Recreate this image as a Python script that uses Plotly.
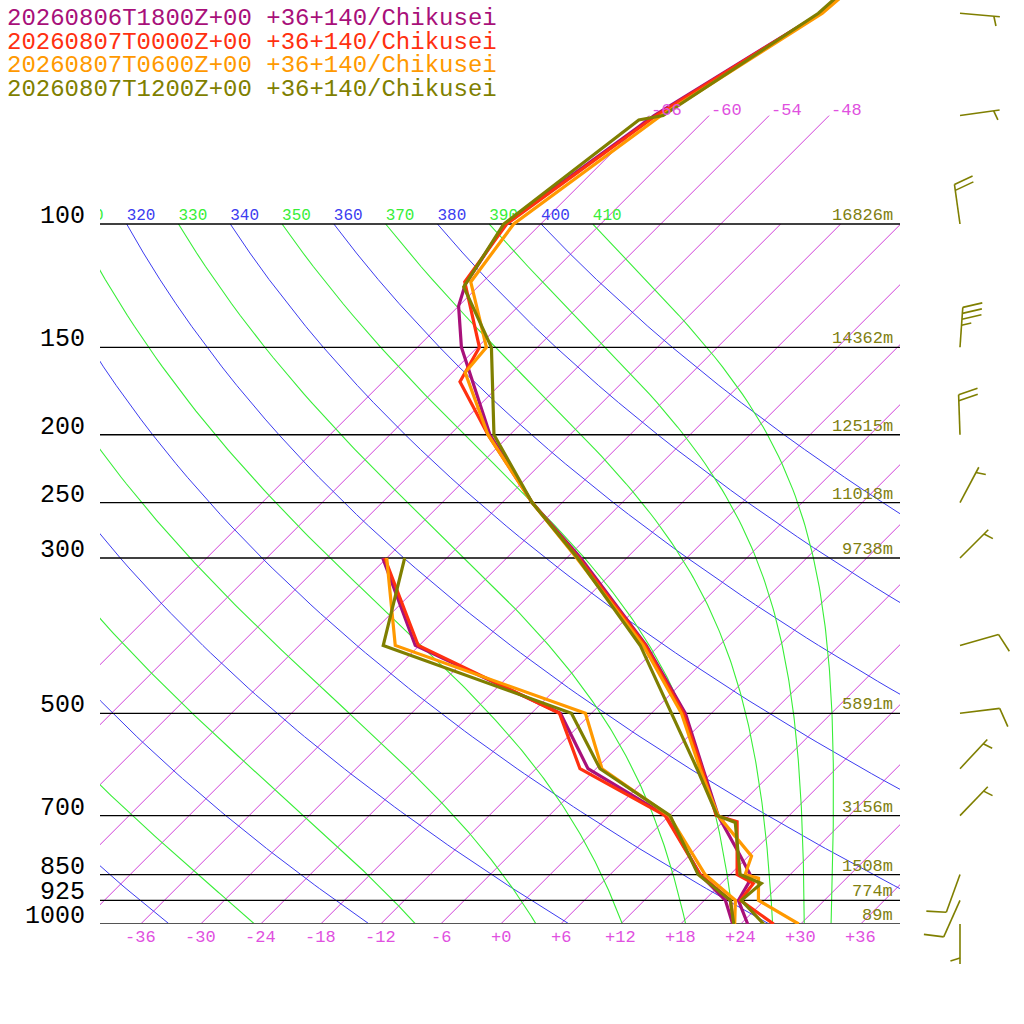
import math
import numpy as np
import plotly.graph_objects as go

# ---- sounding data (hPa, degC) ----
TIMES = ["20260806T1800Z+00", "20260807T0000Z+00", "20260807T0600Z+00", "20260807T1200Z+00"]
STATION = "+36+140/Chikusei"
SERIES_COLORS = ["#a8107a", "#ff3010", "#ff9900", "#7f7f00"]

t18_p = [1000, 925, 875, 850, 800, 700, 600, 500, 400, 300, 250, 200, 150, 131, 122, 100, 70, 50, 30]
t18_t = [24.7, 21.4, 20.7, 20.0, 17.2, 10.9, 4.7, -2.6, -13.3, -28.6, -39.0, -50.0, -61.6, -66.0, -67.5, -69.6, -65.5, -59.1, -57.0]
t00_p = [1000, 925, 875, 850, 714, 700, 600, 500, 400, 300, 250, 200, 168, 150, 121, 100, 70, 50, 30]
t00_t = [27.3, 21.6, 21.2, 18.7, 13.4, 10.7, 4.6, -2.8, -13.4, -28.8, -39.0, -50.2, -58.3, -59.8, -67.8, -69.4, -65.3, -59.1, -57.0]
t06_p = [1000, 925, 860, 850, 800, 700, 600, 500, 400, 300, 250, 200, 163, 150, 121, 100, 70, 50, 30]
t06_t = [29.8, 23.4, 21.2, 19.5, 18.3, 10.9, 4.4, -3.0, -13.6, -29.0, -39.0, -50.2, -58.7, -59.1, -67.2, -68.7, -64.8, -58.9, -56.5]
t12_p = [1000, 925, 875, 850, 716, 700, 600, 500, 400, 300, 250, 200, 150, 123, 100, 71, 70, 50, 30]
t12_t = [26.3, 21.7, 22.0, 19.0, 13.3, 10.8, 4.1, -4.0, -13.9, -28.9, -39.0, -49.6, -58.6, -67.4, -69.7, -66.6, -64.6, -59.3, -57.5]

dew_p = [1000, 925, 850, 700, 600, 500, 400, 300]
d18_td = [23.2, 20.1, 15.0, 5.7, -6.8, -15.1, -36.4, -48.4]
d00_td = [23.3, 20.6, 15.0, 5.6, -7.6, -15.2, -36.1, -48.2]
d06_td = [23.4, 21.1, 15.5, 6.0, -5.4, -12.6, -38.4, -48.0]
d12_td = [23.3, 20.6, 14.8, 6.1, -5.6, -14.0, -39.6, -46.2]

# winds of the last run (drawn as barbs on the right)
wind_p = [1000, 925, 850, 700, 600, 500, 400, 300, 250, 200, 150, 100, 70, 50]
wind_dir = [180, 204, 200, 44, 43, 83, 74, 45, 28, 358, 4, 352, 82, 95]
wind_kt = [5, 10, 10, 5, 5, 10, 10, 5, 5, 20, 35, 20, 5, 5]

# standard levels with geopotential heights
level_p = [1000, 925, 850, 700, 500, 300, 250, 200, 150, 100]
level_z = ["89m", "774m", "1508m", "3156m", "5891m", "9738m", "11018m", "12515m", "14362m", "16826m"]

isotherms = list(range(-66, 37, 6))
dry_thetas = list(range(240, 401, 20))
moist_thetas = list(range(250, 411, 20))
temp_ticks = list(range(-36, 37, 6))

# ---- diagram geometry ----
SKEW = 30.4                     # degC of shift per ln(1000/p)
P_TOP = 1000 * math.exp(-924 / 304)
X_MIN, X_MAX = -40.07, 39.93

MAGENTA = "#d040d8"
BLUE = "#3c3cf0"
GREEN = "#38ee38"
MONO = "Liberation Mono"


def skew_x(t, p):
    return np.asarray(t) + SKEW * np.log(1000.0 / np.asarray(p, dtype=float))


def moist_curve(theta, pressures):
    # pseudo-adiabat started at 100 hPa and integrated downward
    rd, cp, lv, eps = 287.04, 1005.7, 2.501e6, 0.622

    def slope(p, t):
        es = 6.112 * math.exp(17.67 * (t - 273.15) / (t - 29.65))
        rs = eps * es / (p - es)
        return (rd * t + lv * rs) / (cp + lv * lv * rs * eps / (rd * t * t)) / p

    t = theta * (100 / 1000) ** 0.2857
    out = [t]
    for p0, p1 in zip(pressures[:-1], pressures[1:]):
        h = p1 - p0
        k1 = slope(p0, t)
        k2 = slope(p0 + h / 2, t + h / 2 * k1)
        k3 = slope(p0 + h / 2, t + h / 2 * k2)
        k4 = slope(p1, t + h * k3)
        t = t + h / 6 * (k1 + 2 * k2 + 2 * k3 + k4)
        out.append(t)
    return np.array(out) - 273.15


fig = go.Figure()

# isotherms
for t in isotherms:
    top = 70 if t <= -48 else 100
    fig.add_trace(go.Scatter(x=skew_x([t, t], [1000, top]), y=[1000, top], mode="lines",
                             line=dict(color=MAGENTA, width=1), hoverinfo="skip"))

# dry adiabats
pp = np.arange(1000, 99, -10.0)
for th in dry_thetas:
    tt = th * (pp / 1000) ** 0.2857 - 273.15
    fig.add_trace(go.Scatter(x=skew_x(tt, pp), y=pp, mode="lines",
                             line=dict(color=BLUE, width=1), hoverinfo="skip"))

# moist adiabats
pm = np.arange(100, 1001, 5.0)
for th in moist_thetas:
    tt = moist_curve(th, list(pm))
    fig.add_trace(go.Scatter(x=skew_x(tt, pm), y=pm, mode="lines",
                             line=dict(color=GREEN, width=1.1), hoverinfo="skip"))

# labels of the adiabats along 100 hPa (clipped to the frame)
lab_t = [th * 0.1 ** 0.2857 - 273.15 for th in dry_thetas + moist_thetas]
lab_c = [BLUE] * len(dry_thetas) + [GREEN] * len(moist_thetas)
fig.add_trace(go.Scatter(x=skew_x(lab_t, [100] * len(lab_t)), y=[100] * len(lab_t), mode="text",
                         text=[str(v) for v in dry_thetas + moist_thetas], textposition="top right",
                         textfont=dict(family=MONO, size=16, color=lab_c), cliponaxis=True,
                         hoverinfo="skip"))

# pressure levels
for p in level_p:
    fig.add_trace(go.Scatter(x=[X_MIN, X_MAX], y=[p, p], mode="lines", hoverinfo="skip",
                             line=dict(color="#555555" if p == 1000 else "black",
                                       width=2.2 if p == 1000 else 1.3)))

# soundings
temps = [(t18_p, t18_t), (t00_p, t00_t), (t06_p, t06_t), (t12_p, t12_t)]
dews = [d18_td, d00_td, d06_td, d12_td]
for (tp, tv), td, col in zip(temps, dews, SERIES_COLORS):
    fig.add_trace(go.Scatter(x=skew_x(tv, tp), y=tp, mode="lines",
                             line=dict(color=col, width=3.2), hoverinfo="skip"))
    fig.add_trace(go.Scatter(x=skew_x(td, dew_p), y=dew_p, mode="lines",
                             line=dict(color=col, width=3.2), hoverinfo="skip"))

# wind barbs on a side axis measured in pixels
bx, by = [], []
staff, gap, ang = 40.0, 6.0, math.radians(73)
for p, d, s in zip(wind_p, wind_dir, wind_kt):
    ux, uy = math.sin(math.radians(d)), math.cos(math.radians(d))
    fx = ux * math.cos(ang) + uy * math.sin(ang)
    fy = -ux * math.sin(ang) + uy * math.cos(ang)
    segs = [((0, 0), (ux * staff, uy * staff))]
    n_full, half = s // 10, (s % 10) >= 5
    pos = staff if n_full else staff - gap
    for _ in range(n_full):
        segs.append(((ux * pos, uy * pos), (ux * pos + fx * 20, uy * pos + fy * 20)))
        pos -= gap
    if half:
        segs.append(((ux * pos, uy * pos), (ux * pos + fx * 10, uy * pos + fy * 10)))
    for a, b in segs:
        bx += [960 + a[0], 960 + b[0], None]
        by += [p * math.exp(-a[1] / 304), p * math.exp(-b[1] / 304), None]
fig.add_trace(go.Scatter(x=bx, y=by, xaxis="x2", yaxis="y2", mode="lines",
                         line=dict(color=SERIES_COLORS[3], width=1.6), hoverinfo="skip"))

ann = []
for i, tm in enumerate(TIMES):
    ann.append(dict(text=f"{tm} {STATION}", xref="paper", yref="paper", x=5 / 1024,
                    y=1 - (18.5 + 23.5 * i) / 1024, xanchor="left", yanchor="middle",
                    showarrow=False, font=dict(family=MONO, size=24, color=SERIES_COLORS[i])))
for p, z in zip(level_p, level_z):
    ann.append(dict(text=str(p), xref="paper", yref="y", x=87 / 1024, y=math.log10(p),
                    xanchor="right", yanchor="bottom", yshift=-9, showarrow=False,
                    font=dict(family=MONO, size=25, color="black")))
    ann.append(dict(text=z, xref="paper", yref="y", x=895 / 1024, y=math.log10(p),
                    xanchor="right", yanchor="bottom", yshift=-3, showarrow=False,
                    font=dict(family=MONO, size=17, color="#808010")))
for t in temp_ticks:
    ann.append(dict(text=f"{t:+d}", xref="x", yref="paper", x=t, y=(1024 - 937) / 1024,
                    xanchor="center", yanchor="middle", showarrow=False,
                    font=dict(family=MONO, size=17, color="#e050e0")))
for t in [v for v in isotherms if v <= -48]:
    ann.append(dict(text=str(t), xref="x", yref="y", x=float(skew_x(t, 70)), y=math.log10(70),
                    xanchor="left", yanchor="bottom", yshift=-6, showarrow=False,
                    font=dict(family=MONO, size=17, color="#e050e0")))

fig.update_layout(
    width=1024, height=1024,
    margin=dict(l=0, r=0, t=0, b=0, pad=0),
    paper_bgcolor="white", plot_bgcolor="white",
    showlegend=False,
    annotations=ann,
    xaxis=dict(domain=[100 / 1024, 900 / 1024], range=[X_MIN, X_MAX], visible=False),
    yaxis=dict(domain=[100 / 1024, 1], type="log",
               range=[3, math.log10(P_TOP)], visible=False),
    xaxis2=dict(domain=[900 / 1024, 1], range=[900, 1024], visible=False, anchor="y2"),
    yaxis2=dict(domain=[0, 1], type="log", anchor="x2",
                range=[math.log10(1000 * math.exp(100 / 304)), math.log10(P_TOP)], visible=False),
)

# drop the default page margin so the figure sits at the window corner
fig.write_html("out.html", config={"displayModeBar": False},
               post_script="document.body.style.margin='0';")
